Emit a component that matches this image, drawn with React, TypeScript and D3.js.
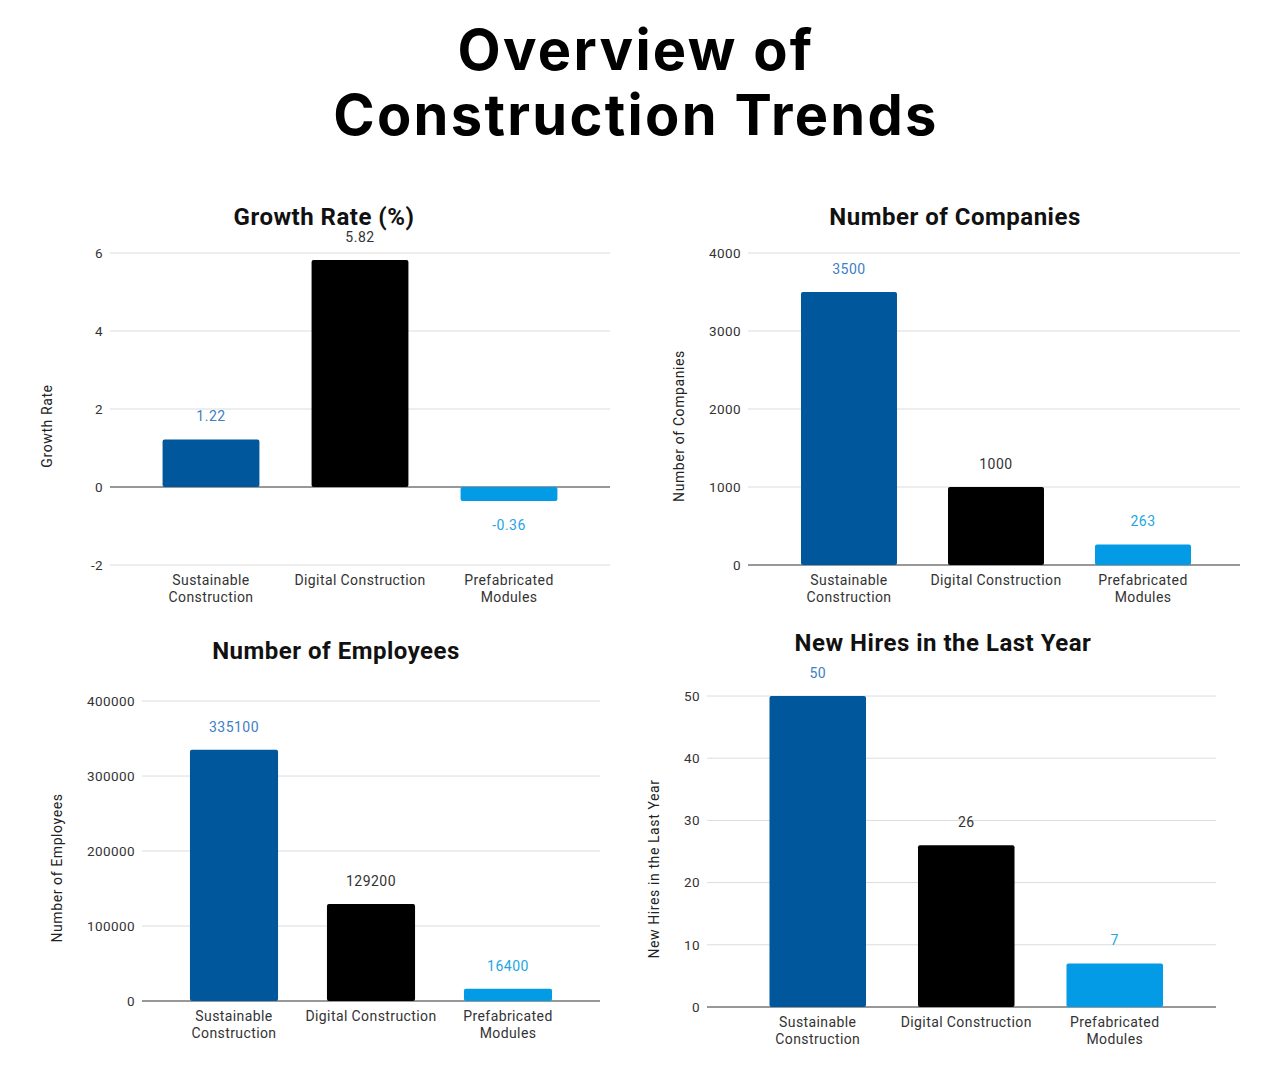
import * as d3 from 'd3';

// ---- data ----
const categoryLines = [
  ['Sustainable', 'Construction'],
  ['Digital Construction'],
  ['Prefabricated', 'Modules'],
];
const growthRate = [1.22, 5.82, -0.36];
const companies = [3500, 1000, 263];
const employees = [335100, 129200, 16400];
const newHires = [50, 26, 7];

const growthTicks = [-2, 0, 2, 4, 6];
const companyTicks = [0, 1000, 2000, 3000, 4000];
const employeeTicks = [0, 100000, 200000, 300000, 400000];
const hireTicks = [0, 10, 20, 30, 40, 50];

const barColors = ['#01579b', '#000000', '#039be5'];
const labelColors = ['#3d80c4', '#333333', '#1ea6e3'];

const FONT = 'Roboto, "Noto Sans", sans-serif';

interface ChartProps {
  title: string;
  titleX: number;
  titleY: number;
  yLabel: string;
  yLabelX: number;
  yLabelY: number;
  values: number[];
  ticks: number[];
  yRange: [number, number];
  gridX: [number, number];
  bandRange: [number, number];
  padding: number;
}

function BarChart(p: ChartProps) {
  const domain = d3.extent(p.ticks) as [number, number];
  const y = d3.scaleLinear().domain(domain).range(p.yRange);
  const x = d3
    .scaleBand<number>()
    .domain(p.values.map((_, i) => i))
    .range(p.bandRange)
    .paddingInner(p.padding)
    .paddingOuter(p.padding / 2);
  const bottom = p.yRange[0];

  return (
    <g fontFamily={FONT}>
      <text
        x={p.titleX}
        y={p.titleY}
        textAnchor="middle"
        fontSize={24}
        fontWeight={700}
        letterSpacing={0.5}
        fill="#111"
      >
        {p.title}
      </text>
      <text
        transform={`translate(${p.yLabelX},${p.yLabelY}) rotate(-90)`}
        textAnchor="middle"
        fontSize={14}
        letterSpacing={0.6}
        fill="#222"
      >
        {p.yLabel}
      </text>

      {/* grid + tick labels */}
      {p.ticks.map((t) => (
        <g key={t}>
          <line
            x1={p.gridX[0]}
            x2={p.gridX[1]}
            y1={y(t)}
            y2={y(t)}
            stroke={t === 0 ? '#333' : '#dcdcdc'}
            strokeWidth={t === 0 ? 1.2 : 1}
          />
          <text
            x={p.gridX[0] - 7}
            y={y(t)}
            dy="0.35em"
            textAnchor="end"
            fontSize={13.5}
            letterSpacing={0.4}
            fill="#333"
          >
            {t}
          </text>
        </g>
      ))}

      {/* bars */}
      {p.values.map((v, i) => (
        <rect
          key={i}
          x={x(i)}
          y={Math.min(y(v), y(0))}
          width={x.bandwidth()}
          height={Math.abs(y(v) - y(0))}
          rx={2}
          fill={barColors[i]}
        />
      ))}

      {/* value labels */}
      {p.values.map((v, i) => (
        <text
          key={i}
          x={x(i)! + x.bandwidth() / 2}
          y={v >= 0 ? y(v) - 18 : y(v) + 29}
          textAnchor="middle"
          fontSize={14}
          letterSpacing={0.5}
          fill={labelColors[i]}
        >
          {v}
        </text>
      ))}

      {/* category labels */}
      {categoryLines.map((lines, i) => (
        <text key={i} textAnchor="middle" fontSize={14} letterSpacing={0.4} fill="#333">
          {lines.map((l, j) => (
            <tspan key={j} x={x(i)! + x.bandwidth() / 2} y={bottom + 20 + j * 17}>
              {l}
            </tspan>
          ))}
        </text>
      ))}
    </g>
  );
}

export default function App() {
  return (
    <svg
      width={1280}
      height={1080}
      style={{ position: 'absolute', left: 0, top: 0, background: '#fff' }}
    >
      <rect width={1280} height={1080} fill="#fff" />
      <g
        fontFamily='Inter, "Open Sans", sans-serif'
        fontWeight={700}
        fill="#000"
        textAnchor="middle"
        letterSpacing={2.3}
      >
        <text x={636} y={70} fontSize={56}>Overview of</text>
        <text x={636} y={135} fontSize={56}>Construction Trends</text>
      </g>

      <BarChart
        title="Growth Rate (%)"
        titleX={324}
        titleY={225}
        yLabel="Growth Rate"
        yLabelX={52}
        yLabelY={426}
        values={growthRate}
        ticks={growthTicks}
        yRange={[565, 253]}
        gridX={[110, 610]}
        bandRange={[136.5, 583.5]}
        padding={0.35}
      />
      <BarChart
        title="Number of Companies"
        titleX={955}
        titleY={225}
        yLabel="Number of Companies"
        yLabelX={684}
        yLabelY={426}
        values={companies}
        ticks={companyTicks}
        yRange={[565, 253]}
        gridX={[748, 1240]}
        bandRange={[775.5, 1216.5]}
        padding={0.347}
      />
      <BarChart
        title="Number of Employees"
        titleX={336}
        titleY={659}
        yLabel="Number of Employees"
        yLabelX={62}
        yLabelY={868}
        values={employees}
        ticks={employeeTicks}
        yRange={[1001, 701]}
        gridX={[142, 600]}
        bandRange={[165.5, 576.5]}
        padding={0.357}
      />
      <BarChart
        title="New Hires in the Last Year"
        titleX={943}
        titleY={651}
        yLabel="New Hires in the Last Year"
        yLabelX={659}
        yLabelY={869}
        values={newHires}
        ticks={hireTicks}
        yRange={[1007, 696]}
        gridX={[707, 1216]}
        bandRange={[743.5, 1189]}
        padding={0.35}
      />
    </svg>
  );
}
